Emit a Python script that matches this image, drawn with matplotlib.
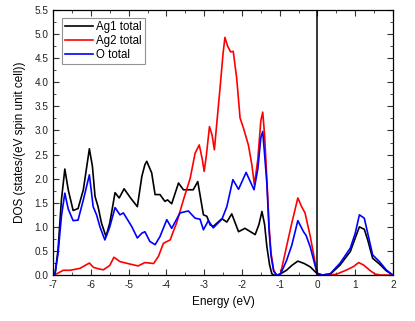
import matplotlib

matplotlib.use("Agg")

import matplotlib.pyplot as plt
from matplotlib.ticker import MultipleLocator

plt.rcParams["font.family"] = ["Liberation Sans", "DejaVu Sans"]
plt.rcParams["axes.unicode_minus"] = False

# Ag1 total
ag1_e = [-7.0, -6.95, -6.87, -6.78, -6.69, -6.60, -6.47, -6.34, -6.20, -6.04,
         -5.96, -5.89, -5.81, -5.72, -5.60, -5.50, -5.36, -5.25, -5.12, -4.95,
         -4.77, -4.65, -4.57, -4.52, -4.39, -4.30, -4.17, -4.04, -3.97, -3.86,
         -3.68, -3.55, -3.42, -3.29, -3.17, -3.02, -2.93, -2.84, -2.76, -2.53,
         -2.40, -2.27, -2.09, -1.92, -1.65, -1.55, -1.47, -1.40, -1.34, -1.27,
         -1.21, -1.16, -1.05, -0.95, -0.82, -0.68, -0.52, -0.35, -0.19, -0.01,
         0.12, 0.34, 0.60, 0.87, 1.0, 1.11, 1.24, 1.33, 1.46, 1.64, 1.82, 1.96, 2.0]
ag1_dos = [0.0, 0.02, 0.52, 1.56, 2.2, 1.77, 1.34, 1.38, 1.77, 2.62,
           2.26, 1.63, 1.42, 1.08, 0.8, 1.08, 1.71, 1.6, 1.79, 1.6,
           1.42, 2.05, 2.29, 2.36, 2.12, 1.67, 1.67, 1.53, 1.56, 1.48,
           1.91, 1.77, 1.77, 1.77, 1.94, 1.25, 1.22, 1.04, 1.01, 1.17,
           1.1, 1.27, 0.9, 0.97, 0.84, 1.05, 1.32, 1.05, 0.59, 0.22,
           0.03, 0.0, 0.0, 0.04, 0.1, 0.2, 0.29, 0.24, 0.17, 0.03,
           0.0, 0.02, 0.21, 0.49, 0.77, 1.0, 0.95, 0.73, 0.35, 0.23, 0.09, 0.02, 0.0]

# Ag2 total
ag2_e = [-7.0, -6.9, -6.73, -6.55, -6.29, -6.04, -5.93, -5.80, -5.67, -5.50,
         -5.39, -5.23, -4.97, -4.75, -4.57, -4.45, -4.34, -4.21, -4.08, -3.90,
         -3.82, -3.73, -3.55, -3.37, -3.24, -3.13, -3.05, -3.00, -2.94, -2.86,
         -2.79, -2.73, -2.66, -2.58, -2.50, -2.45, -2.38, -2.30, -2.23, -2.14,
         -2.05, -1.96, -1.83, -1.74, -1.67, -1.58, -1.50, -1.45, -1.40, -1.34,
         -1.28, -1.23, -1.16, -1.08, -0.98, -0.82, -0.68, -0.52, -0.42, -0.33,
         -0.19, -0.01, 0.12, 0.34, 0.51, 0.78, 0.96, 1.09, 1.22, 1.40, 1.53, 1.7, 2.0]
ag2_dos = [0.0, 0.03, 0.1, 0.1, 0.14, 0.25, 0.16, 0.13, 0.11, 0.2,
           0.37, 0.28, 0.23, 0.19, 0.26, 0.25, 0.24, 0.39, 0.66, 0.73,
           0.9, 1.08, 1.56, 2.01, 2.53, 2.70, 2.4, 2.15, 2.5, 3.08,
           2.9, 2.6, 3.2, 3.88, 4.6, 4.93, 4.75, 4.63, 4.64, 4.09,
           3.26, 3.05, 2.7, 2.3, 1.87, 2.4, 3.2, 3.38, 2.9, 1.98,
           1.0, 0.46, 0.1, 0.0, 0.02, 0.59, 1.08, 1.60, 1.42, 1.29,
           0.8, 0.04, 0.0, 0.0, 0.02, 0.11, 0.18, 0.26, 0.21, 0.09, 0.02, 0.0, 0.0]

# O total
o_e = [-7.0, -6.95, -6.87, -6.78, -6.69, -6.60, -6.47, -6.34, -6.20, -6.04,
       -5.94, -5.85, -5.76, -5.63, -5.50, -5.36, -5.23, -5.14, -4.92, -4.77,
       -4.65, -4.57, -4.44, -4.30, -4.17, -3.99, -3.86, -3.64, -3.42, -3.24,
       -3.11, -3.02, -2.89, -2.76, -2.53, -2.40, -2.24, -2.09, -1.89, -1.68,
       -1.58, -1.50, -1.45, -1.40, -1.34, -1.28, -1.23, -1.16, -1.08, -0.98,
       -0.82, -0.68, -0.52, -0.37, -0.30, -0.19, -0.01, 0.12, 0.34, 0.60,
       0.87, 1.0, 1.11, 1.24, 1.33, 1.46, 1.64, 1.82, 1.96, 2.0]
o_dos = [0.0, 0.02, 0.45, 1.22, 1.70, 1.37, 1.13, 1.14, 1.56, 2.08,
         1.42, 1.25, 1.0, 0.73, 1.0, 1.4, 1.25, 1.29, 1.01, 0.77,
         0.87, 0.9, 0.7, 0.63, 0.8, 1.15, 0.97, 1.29, 1.33, 1.18,
         1.16, 0.94, 1.13, 0.98, 1.16, 1.42, 1.98, 1.78, 2.13, 1.77,
         2.2, 2.85, 2.98, 2.5, 1.9, 0.9, 0.4, 0.08, 0.0, 0.02,
         0.3, 0.62, 1.13, 0.9, 0.82, 0.58, 0.04, 0.0, 0.03, 0.25,
         0.56, 0.87, 1.25, 1.18, 0.87, 0.42, 0.28, 0.11, 0.02, 0.0]

fermi = 0.0

fig = plt.figure(figsize=(4.15, 3.21), dpi=100)
ax = fig.add_axes([0.128, 0.143, 0.819, 0.826])

ax.plot(ag1_e, ag1_dos, color="black", lw=1.2, label="Ag1 total")
ax.plot(ag2_e, ag2_dos, color="#ff0000", lw=1.2, label="Ag2 total")
ax.plot(o_e, o_dos, color="#0000ff", lw=1.2, label="O total")
ax.axvline(fermi, color="black", lw=1.1)

ax.set_xlim(-7, 2)
ax.set_ylim(0, 5.5)
ax.xaxis.set_major_locator(MultipleLocator(1))
ax.xaxis.set_minor_locator(MultipleLocator(0.5))
ax.yaxis.set_major_locator(MultipleLocator(0.5))
ax.yaxis.set_minor_locator(MultipleLocator(0.25))
ax.yaxis.set_major_formatter(lambda v, p: f"{v:.1f}")
ax.tick_params(which="both", direction="in", top=True, right=True,
               labelsize=7.2, colors="#333333", labelcolor="#222222")
ax.tick_params(which="major", length=4, width=0.8)
ax.tick_params(which="minor", length=2, width=0.6)
for s in ax.spines.values():
    s.set_linewidth(0.9)

ax.set_xlabel("Energy (eV)", fontsize=8.5, labelpad=4)
ax.set_ylabel("DOS (states/(eV spin unit cell))", fontsize=8.5, labelpad=6)

leg = ax.legend(loc="upper left", fontsize=8.3, handlelength=2.4,
                handletextpad=0.3, labelspacing=0.15, borderpad=0.3,
                borderaxespad=0.0, fancybox=False,
                bbox_to_anchor=(0.025, 0.97))
leg.get_frame().set_edgecolor("#777777")
leg.get_frame().set_linewidth(0.8)

fig.savefig("out.png", dpi=100)
